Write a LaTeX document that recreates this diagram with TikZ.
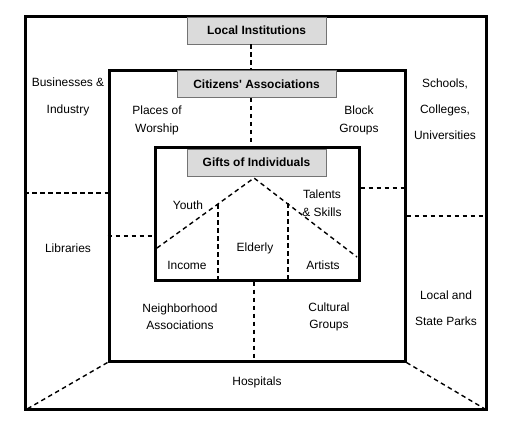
\documentclass[tikz,border=0pt]{standalone}
\usepackage{fontspec}
\setmainfont{Liberation Sans}
\begin{document}
\begin{tikzpicture}[x=1bp,y=-1bp,
  frame/.style={draw=black,line width=3bp,minimum width=#1},
  title/.style={draw=gray!90!black,fill=gray!28,line width=0.8bp,minimum width=139bp,minimum height=27bp,inner sep=0pt,font=\fontsize{12}{14}\selectfont\bfseries},
  lbl/.style={align=center,inner sep=0pt,font=\fontsize{12}{#1}\selectfont},
  lbl/.default=14,
  dline/.style={line width=1.4bp,dash pattern=on 4.5bp off 3.5bp}]
\useasboundingbox (0,0) rectangle (512,429);
\fill[white] (0,0) rectangle (512,429);
% frames
\node[frame=460bp,minimum height=393bp] (outer) at (256,212.5) {};
\node[frame=296bp,minimum height=291bp] (mid) at (257,215.5) {};
\node[frame=204bp,minimum height=133bp] (inner) at (257,213.5) {};
% titles
\node[title] (local) at (256.5,30.5) {Local Institutions};
\node[title,minimum width=159bp] (citz) at (256.5,84) {Citizens\textquotesingle\ Associations};
\node[title] (gifts) at (256.5,162.5) {Gifts of Individuals};
% dashed connectors
\draw[dline] (local.south -| 251,0) -- (mid.north -| 251,0);
\draw[dline] (citz.south -| 251,0) -- (inner.north -| 251,0);
\draw[dline] (outer.west |- 0,193) -- (mid.west |- 0,193);
\draw[dline] (inner.east |- 0,188) -- (mid.east |- 0,188);
\draw[dline] (mid.west |- 0,236) -- (inner.west |- 0,236);
\draw[dline] (mid.east |- 0,216) -- (outer.east |- 0,216);
\draw[dline] (inner.south -| 254,0) -- (mid.south -| 254,0);
\draw[dline] (mid.south west) -- (outer.south west);
\draw[dline] (mid.south east) -- (outer.south east);
% roof
\coordinate (peak) at (254,178);
\coordinate (rl) at (157,248);
\coordinate (rr) at (357,257);
\draw[dline] (rl) -- (peak) -- (rr);
\draw[dline] (218,204) -- (inner.south -| 218,0);
\draw[dline] (288,203) -- (inner.south -| 288,0);
% labels
\node[lbl=27] (bus) at (68,96.5) {Businesses \&\\Industry};
\node[lbl=18] (pow) at (157,120) {Places of\\Worship};
\node[lbl=18] (blk) at (359,120) {Block\\Groups};
\node[lbl=26] (sch) at (445,109) {Schools,\\Colleges,\\Universities};
\node[lbl] (you) at (188,205) {Youth};
\node[lbl=18] (tal) at (322,203) {Talents\\\& Skills};
\node[lbl] (lib) at (68,248) {Libraries};
\node[lbl] (inc) at (187,265) {Income};
\node[lbl] (eld) at (255,248) {Elderly};
\node[lbl] (art) at (323,265) {Artists};
\node[lbl=17] (nei) at (180,316.5) {Neighborhood\\Associations};
\node[lbl=17] (cul) at (329,316.5) {Cultural\\Groups};
\node[lbl=26] (prk) at (446,308) {Local and\\State Parks};
\node[lbl] (hos) at (257,382) {Hospitals};
\end{tikzpicture}
\end{document}
